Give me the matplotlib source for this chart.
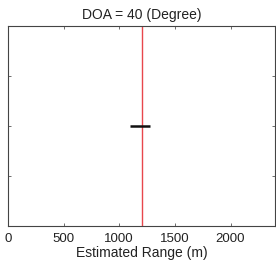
import matplotlib
matplotlib.use("Agg")
import matplotlib.pyplot as plt

title = "DOA = 40 (Degree)"
xlabel = "Estimated Range (m)"
x_ticks = [0, 500, 1000, 1500, 2000]
y_ticks = [0.25, 0.5, 0.75]
true_range = [1200]
est_range = [1190]
est_level = [0.5]

plt.rcParams['font.family'] = ['Liberation Sans', 'DejaVu Sans']
fig = plt.figure(figsize=(2.76, 2.62), dpi=100)
ax = fig.add_axes([8/276, 1-226/262, (275-8)/276, 200/262])
for x in true_range:
    ax.axvline(x, color='#e8474c', lw=1.0)
ax.plot(est_range, est_level, marker='_', color='#111111', markersize=14, mew=1.8, ls='none')
ax.set_xlim(0, 2400)
ax.set_ylim(0, 1)
ax.set_xticks(x_ticks)
ax.set_yticks(y_ticks)
ax.set_yticklabels([])
ax.tick_params(direction='in', top=True, right=True, length=2, width=0.6, labelsize=9.5, colors='#555555', labelcolor='#222222', pad=5)
for s in ax.spines.values():
    s.set_linewidth(0.8)
    s.set_color('#444444')
ax.set_title(title, fontsize=10, pad=5, color='#222222')
ax.set_xlabel(xlabel, fontsize=10, labelpad=1, color='#222222')
fig.savefig("out.png", dpi=100)
